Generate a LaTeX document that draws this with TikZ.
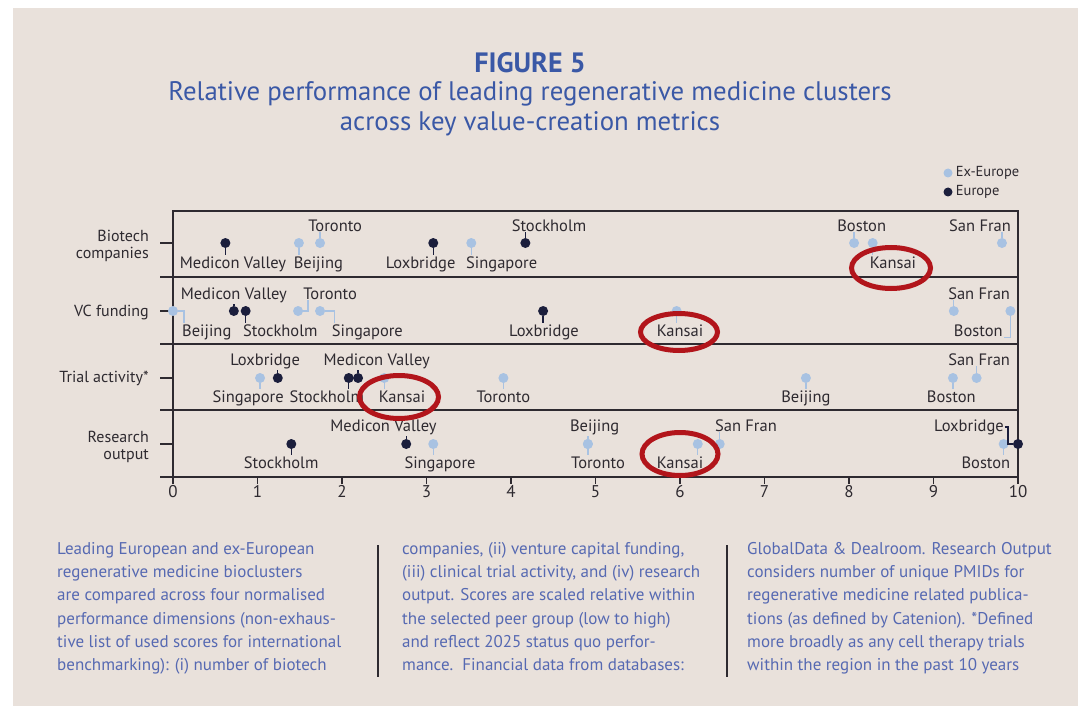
\documentclass[tikz,border=0pt]{standalone}
\usepackage{fontspec}
\setmainfont{PT Sans}
\usepackage{tikz}
\usetikzlibrary{positioning}
\usetikzlibrary{shapes.geometric}

\definecolor{paper}{HTML}{E9E1DB}
\definecolor{navy}{HTML}{1B1E3C}
\definecolor{sky}{HTML}{A8C2E2}
\definecolor{ink}{HTML}{2E2A30}
\definecolor{titleblue}{HTML}{3A58A6}
\definecolor{footblue}{HTML}{5669B2}
\definecolor{ringred}{HTML}{B2151B}

\begin{document}
\begin{tikzpicture}[x=1pt, y=-1pt,
	eu/.style={circle, fill=navy, inner sep=0pt, minimum size=10pt},
	xeu/.style={circle, fill=sky, inner sep=0pt, minimum size=10pt},
	city/.style={font=\fontsize{16.5}{16.5}\selectfont, text=ink, inner sep=1pt, anchor=base},
	eustem/.style={navy, line width=1.4pt},
	xeustem/.style={sky, line width=1.4pt},
	axisline/.style={draw=ink, line width=1.5pt},
	metric/.style={font=\fontsize{16}{17}\selectfont, text=ink, align=right, anchor=east, inner sep=0pt},
	ticklabel/.style={font=\fontsize{17}{17}\selectfont, text=ink, anchor=base},
	ring/.style={ellipse, draw=ringred, line width=5pt, inner sep=0pt},
	foot/.style={font=\fontsize{17}{23.3}\selectfont, text=footblue, align=left, anchor=north west, inner sep=0pt},
	legendtext/.style={font=\fontsize{14.5}{15}\selectfont, text=ink, inner sep=0pt}]
	
	\useasboundingbox (0,0) rectangle (1078,714);
	\fill[white] (0,0) rectangle (1078,714);
	\fill[paper] (13,8) rectangle (1078,706);
	
	% title
	\node[font=\bfseries\fontsize{28}{28}\selectfont, text=titleblue] (fig) at (530,63) {FIGURE 5};
	\node[font=\fontsize{26.8}{30}\selectfont, text=titleblue, align=center] (sub) at (530,109) {Relative performance of leading regenerative medicine clusters\\across key value-creation metrics};
	
	% legend
	\node[xeu, minimum size=9pt] (lg-x) at (948,173) {};
	\node[legendtext, right=3pt of lg-x] (lg-x-t) {Ex-Europe};
	\node[eu, minimum size=9pt] (lg-e) at (948,192) {};
	\node[legendtext, right=3pt of lg-e] (lg-e-t) {Europe};
	
	% frame and axis
	\draw[axisline] (173,484) -- (173,211) -- (1018,211) -- (1018,484);
	\foreach \y in {277,344,410,477}
		\draw[axisline] (160,\y) -- (1018,\y);
	\foreach \y in {243,311,378,444}
		\draw[axisline] (160,\y) -- (173,\y);
	\foreach \t in {0,...,10} {
		\draw[axisline] (173+84.5*\t,477) -- (173+84.5*\t,484);
		\node[ticklabel] (t\t) at (173+84.5*\t,497) {\t};
	}
	
	% metrics
	\node[metric] (m1) at (149,246) {Biotech\\companies};
	\node[metric] (m2) at (149,312) {VC funding};
	\node[metric] (m3) at (149,378) {Trial activity*};
	\node[metric] (m4) at (149,447) {Research\\output};
	
	\begin{scope}[shift={(173,0)}, x=84.5pt]
	% biotech companies
	\node[eu] (b-mv) at (0.62,243) {};
	\node[city] (b-mv-t) at (0.71,268) {Medicon Valley};
	\node[xeu] (b-bj) at (1.49,243) {};
	\node[city] (b-bj-t) at (1.72,268) {Beijing};
	\node[xeu] (b-to) at (1.74,243) {};
	\node[city] (b-to-t) at (1.92,231) {Toronto};
	\node[eu] (b-lx) at (3.08,243) {};
	\node[city] (b-lx-t) at (2.93,268) {Loxbridge};
	\node[xeu] (b-sg) at (3.53,243) {};
	\node[city] (b-sg-t) at (3.89,268) {Singapore};
	\node[eu] (b-st) at (4.17,243) {};
	\node[city] (b-st-t) at (4.45,231) {Stockholm};
	\node[xeu] (b-bo) at (8.06,243) {};
	\node[city] (b-bo-t) at (8.15,231) {Boston};
	\node[xeu] (b-ka) at (8.28,243) {};
	\node[city] (b-ka-t) at (8.52,268) {Kansai};
	\node[xeu] (b-sf) at (9.81,243) {};
	\node[city] (b-sf-t) at (9.55,231) {San Fran};
	
	\draw[eustem] (b-mv) -- (b-mv |- b-mv-t.north);
	\draw[xeustem] (b-bj) -- (b-bj |- b-bj-t.north);
	\draw[xeustem] (b-to) -- (b-to |- b-to-t.south);
	\draw[eustem] (b-lx) -- (b-lx |- b-lx-t.north);
	\draw[xeustem] (b-sg) -- (b-sg |- b-sg-t.north);
	\draw[eustem] (b-st) -- (b-st |- b-st-t.south);
	\draw[xeustem] (b-bo) -- (b-bo |- b-bo-t.south);
	\draw[xeustem] (b-ka) -- (b-ka |- b-ka-t.north);
	\draw[xeustem] (b-sf) -- (b-sf |- b-sf-t.south);
	
	% vc funding
	\node[xeu] (v-bj) at (0,311) {};
	\node[city] (v-bj-t) at (0.40,336) {Beijing};
	\node[eu] (v-mv) at (0.72,311) {};
	\node[city] (v-mv-t) at (0.72,299) {Medicon Valley};
	\node[eu] (v-st) at (0.86,311) {};
	\node[city] (v-st-t) at (1.27,336) {Stockholm};
	\node[xeu] (v-to) at (1.48,311) {};
	\node[city] (v-to-t) at (1.86,299) {Toronto};
	\node[xeu] (v-sg) at (1.74,311) {};
	\node[city] (v-sg-t) at (2.30,336) {Singapore};
	\node[eu] (v-lx) at (4.38,311) {};
	\node[city] (v-lx-t) at (4.39,336) {Loxbridge};
	\node[xeu] (v-ka) at (5.96,311) {};
	\node[city] (v-ka-t) at (6.00,336) {Kansai};
	\node[xeu] (v-sf) at (9.24,311) {};
	\node[city] (v-sf-t) at (9.54,299) {San Fran};
	\node[xeu] (v-bo) at (9.91,311) {};
	\node[city] (v-bo-t) at (9.53,336) {Boston};
	
	\draw[xeustem] (v-bj) -| ([xshift=3pt]v-bj-t.north west);
	\draw[eustem] (v-mv) -- (v-mv |- v-mv-t.south);
	\draw[eustem] (v-st) -- (v-st |- v-st-t.north);
	\draw[xeustem] (v-to) -| ([xshift=6pt]v-to-t.south west);
	\draw[xeustem] (v-sg) -| ([xshift=4pt]v-sg-t.north west);
	\draw[eustem] (v-lx) -- (v-lx |- v-lx-t.north);
	\draw[xeustem] (v-ka) -- (v-ka |- v-ka-t.north);
	\draw[xeustem] (v-sf) -- (v-sf |- v-sf-t.south);
	\draw[xeustem] (v-bo) |- (v-bo-t.south east);
	
	% trial activity
	\node[xeu] (c-sg) at (1.03,378) {};
	\node[city] (c-sg-t) at (0.89,402) {Singapore};
	\node[eu] (c-lx) at (1.24,378) {};
	\node[city] (c-lx-t) at (1.09,365) {Loxbridge};
	\node[eu] (c-st) at (2.08,378) {};
	\node[city] (c-st-t) at (1.82,402) {Stockholm};
	\node[eu] (c-mv) at (2.19,378) {};
	\node[city] (c-mv-t) at (2.41,365) {Medicon Valley};
	\node[xeu] (c-ka) at (2.50,378) {};
	\node[city] (c-ka-t) at (2.71,402) {Kansai};
	\node[xeu] (c-to) at (3.91,378) {};
	\node[city] (c-to-t) at (3.91,402) {Toronto};
	\node[xeu] (c-bj) at (7.49,378) {};
	\node[city] (c-bj-t) at (7.49,402) {Beijing};
	\node[xeu] (c-bo) at (9.23,378) {};
	\node[city] (c-bo-t) at (9.21,402) {Boston};
	\node[xeu] (c-sf) at (9.51,378) {};
	\node[city] (c-sf-t) at (9.54,365) {San Fran};
	
	\draw[xeustem] (c-sg) -- (c-sg |- c-sg-t.north);
	\draw[eustem] (c-lx) -- (c-lx |- c-lx-t.south);
	\draw[eustem] (c-st) -- (c-st |- c-st-t.north);
	\draw[eustem] (c-mv) -- (c-mv |- c-mv-t.south);
	\draw[xeustem] (c-ka) -- (c-ka |- c-ka-t.north);
	\draw[xeustem] (c-to) -- (c-to |- c-to-t.north);
	\draw[xeustem] (c-bj) -- (c-bj |- c-bj-t.north);
	\draw[xeustem] (c-bo) -- (c-bo |- c-bo-t.north);
	\draw[xeustem] (c-sf) -- (c-sf |- c-sf-t.south);
	
	% research output
	\node[eu] (r-st) at (1.40,444) {};
	\node[city] (r-st-t) at (1.28,468) {Stockholm};
	\node[eu] (r-mv) at (2.76,444) {};
	\node[city] (r-mv-t) at (2.49,431) {Medicon Valley};
	\node[xeu] (r-sg) at (3.08,444) {};
	\node[city] (r-sg-t) at (3.16,468) {Singapore};
	\node[xeu] (r-bj) at (4.91,444) {};
	\node[city] (r-bj-t) at (4.99,431) {Beijing};
	\node[xeu] (r-to) at (4.91,444) {};
	\node[city] (r-to-t) at (5.03,468) {Toronto};
	\node[xeu] (r-ka) at (6.21,444) {};
	\node[city] (r-ka-t) at (6.00,468) {Kansai};
	\node[xeu] (r-sf) at (6.47,444) {};
	\node[city] (r-sf-t) at (6.78,431) {San Fran};
	\node[xeu] (r-bo) at (9.83,444) {};
	\node[city] (r-bo-t) at (9.62,468) {Boston};
	\node[eu] (r-lx) at (10,444) {};
	\node[city] (r-lx-t) at (9.42,431) {Loxbridge};
	
	\draw[eustem] (r-st) -- (r-st |- r-st-t.north);
	\draw[eustem] (r-mv) -- (r-mv |- r-mv-t.south);
	\draw[xeustem] (r-sg) -- (r-sg |- r-sg-t.north);
	\draw[xeustem] (r-bj) -- (r-bj |- r-bj-t.south);
	\draw[xeustem] (r-to) -- (r-to |- r-to-t.north);
	\draw[xeustem] (r-ka) -- (r-ka |- r-ka-t.north);
	\draw[xeustem] (r-sf) -- (r-sf |- r-sf-t.south);
	\draw[xeustem] (r-bo) -- (r-bo |- r-bo-t.north);
	\draw[eustem] (r-lx-t.east) -- ++(3pt,0) |- (r-lx);
	\end{scope}
	
	% highlighted Kansai
	\node[ring, minimum width=79pt, minimum height=41pt] (k1) at (891,268) {};
	\node[ring, minimum width=77pt, minimum height=37pt] (k2) at (679,332) {};
	\node[ring, minimum width=79pt, minimum height=43pt] (k3) at (399,397) {};
	\node[ring, minimum width=76pt, minimum height=43pt] (k4) at (680,454) {};
	
	% notes
	\node[foot] (n1) at (57,542) {Leading European and ex-European\\regenerative medicine bioclusters\\are compared across four normalised\\performance dimensions (non-exhaus-\\tive list of used scores for international\\benchmarking): (i) number of biotech};
	\node[foot] (n2) at (402,542) {companies, (ii) venture capital funding,\\(iii) clinical trial activity, and (iv) research\\output. Scores are scaled relative within\\the selected peer group (low to high)\\and reflect 2025 status quo perfor-\\mance.\ \ Financial data from databases:};
	\node[foot] (n3) at (747,542) {GlobalData \& Dealroom. Research Output\\considers number of unique PMIDs for\\regenerative medicine related publica-\\tions (as defined by Catenion). *Defined\\more broadly as any cell therapy trials\\within the region in the past 10 years};
	\draw[ink, line width=2pt] (378,545) -- (378,677);
	\draw[ink, line width=2pt] (727,545) -- (727,677);
\end{tikzpicture}
\end{document}
